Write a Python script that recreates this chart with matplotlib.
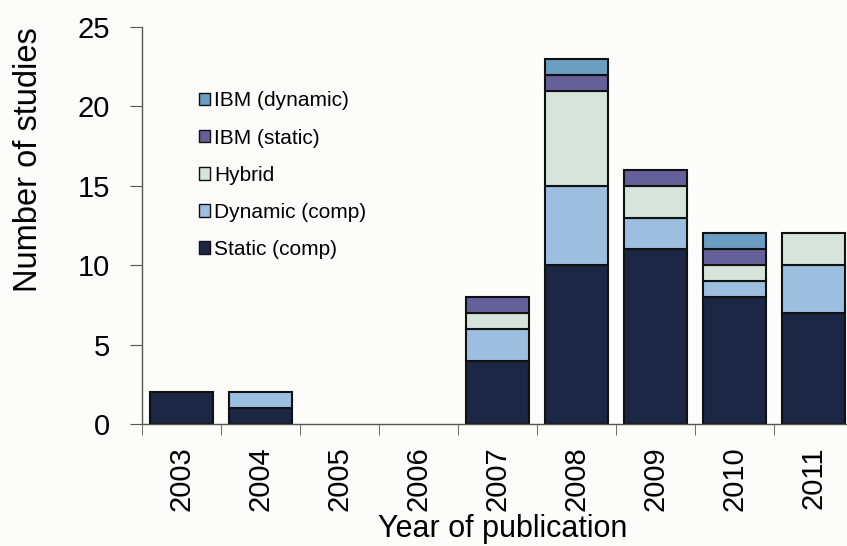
import matplotlib
matplotlib.use("Agg")
import matplotlib.pyplot as plt
import numpy as np

plt.rcParams['font.family'] = ['Liberation Sans', 'DejaVu Sans']

years = ['2003', '2004', '2005', '2006', '2007', '2008', '2009', '2010', '2011']
static_comp = [2, 1, 0, 0, 4, 10, 11, 8, 7]
dynamic_comp = [0, 1, 0, 0, 2, 5, 2, 1, 3]
hybrid = [0, 0, 0, 0, 1, 6, 2, 1, 2]
ibm_static = [0, 0, 0, 0, 1, 1, 1, 1, 0]
ibm_dynamic = [0, 0, 0, 0, 0, 1, 0, 1, 0]

series = [
    ('Static (comp)', static_comp, '#1b2744'),
    ('Dynamic (comp)', dynamic_comp, '#9cbfe0'),
    ('Hybrid', hybrid, '#d6e4dc'),
    ('IBM (static)', ibm_static, '#66609a'),
    ('IBM (dynamic)', ibm_dynamic, '#6a9dc0'),
]

fig = plt.figure(figsize=(8.47, 5.46), dpi=100)
fig.patch.set_facecolor('#fcfcfa')
ax = fig.add_axes([0.168, 0.2234, 0.839, 0.7271])
ax.set_facecolor('#fcfcfa')

x = np.arange(len(years))
bottom = np.zeros(len(years))
handles = []
for name, vals, col in series:
    vals = np.array(vals, dtype=float)
    m = vals > 0
    ax.bar(x[m], vals[m], 0.8, bottom=bottom[m], color=col, edgecolor='#111111',
           linewidth=1.5)
    h = ax.bar([np.nan], [np.nan], color=col, edgecolor='#111111', linewidth=1.0, label=name)
    handles.append(h)
    bottom += vals

ax.set_xlim(-0.5, 8.5)
ax.set_ylim(0, 25)
ax.set_yticks([0, 5, 10, 15, 20, 25])
ax.set_xticks(x)
ax.set_xticklabels(years, rotation=90, fontsize=21)
ax.set_xticks(np.arange(-0.5, 9.0, 1.0), minor=True)
ax.tick_params(axis='x', which='major', length=0, pad=16)
ax.tick_params(axis='x', which='minor', length=8, direction='out', color='#555555')
ax.tick_params(axis='y', labelsize=21, length=9, direction='out', color='#555555', pad=14)
for s in ['top', 'right']:
    ax.spines[s].set_visible(False)
for s in ['left', 'bottom']:
    ax.spines[s].set_color('#555555')
    ax.spines[s].set_linewidth(1.0)

ax.set_ylabel('Number of studies', fontsize=23.5)
ax.yaxis.set_label_coords(-0.139, 0.665)
ax.set_xlabel('Year of publication', fontsize=22, labelpad=0)
ax.xaxis.set_label_coords(0.507, -0.226)

leg = ax.legend(handles[::-1], [s[0] for s in series][::-1], loc='upper left',
                bbox_to_anchor=(0.053, 0.885), frameon=False, fontsize=15,
                handlelength=0.55, handleheight=0.55, handletextpad=0.2,
                labelspacing=0.87)

fig.savefig('out.png', dpi=100, facecolor=fig.get_facecolor())
